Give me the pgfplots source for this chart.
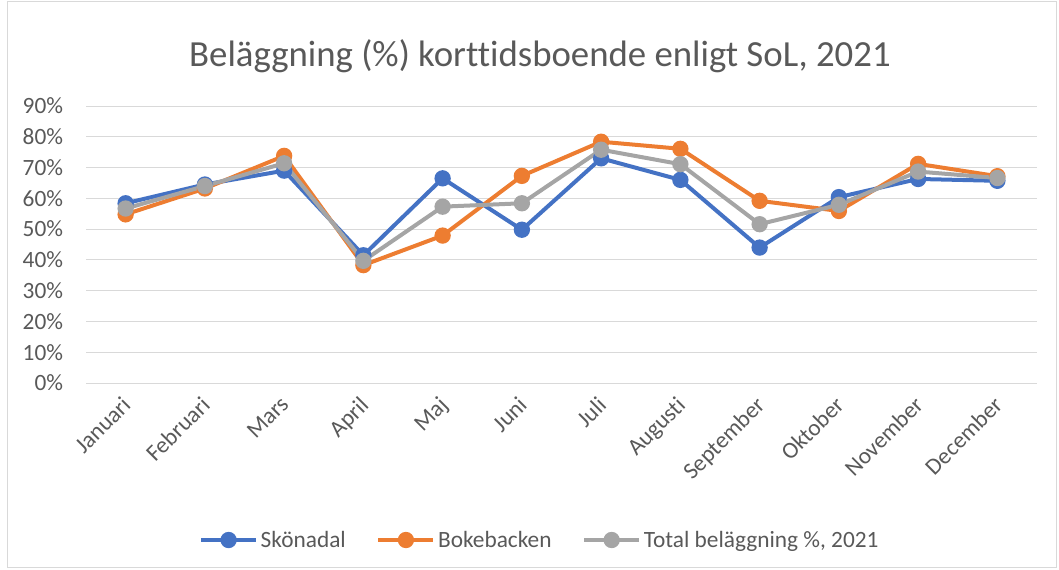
\documentclass[border=0pt]{standalone}
\usepackage{pgfplots}
\pgfplotsset{compat=1.18}
\usepackage{fontspec}
\setmainfont{Carlito}[Ligatures={NoCommon}]
\definecolor{cblue}{HTML}{4472C4}
\definecolor{corange}{HTML}{ED7D31}
\definecolor{cgray}{HTML}{A5A5A5}
\definecolor{cgrid}{HTML}{D9D9D9}
\definecolor{ctext}{HTML}{595959}
\begin{document}
\begin{tikzpicture}[x=1pt,y=1pt]
\useasboundingbox (-64.5,-139.5) rectangle (729.75,287.25);
\draw[cgrid, line width=0.75pt] (-58.5,-138) rectangle (727.5,286.5);
\begin{axis}[
  at={(0,0)}, anchor=south west,
  width=713.25pt, height=207.75pt, scale only axis,
  xmin=-0.5, xmax=11.5, ymin=0, ymax=90,
  xtick={0,...,11},
  xticklabels={Januari,Februari,Mars,April,Maj,Juni,Juli,Augusti,September,Oktober,November,December},
  ytick={0,10,...,90},
  yticklabel={\pgfmathprintnumber{\tick}\%},
  /pgf/number format/assume math mode=true,
  axis x line*=bottom,
  y axis line style={draw=none},
  x axis line style={cgrid, line width=0.75pt, -},
  ymajorgrids, grid style={cgrid, line width=0.75pt},
  major tick length=0pt,
  tick label style={font=\fontsize{17.5}{21}\selectfont, text=ctext},
  xticklabel style={anchor=north east, inner sep=0pt, xshift=-3.75pt, yshift=-9pt, rotate=45},
  yticklabel style={anchor=east, inner sep=0pt, xshift=-17pt},
  every axis plot/.append style={line width=3pt, mark=*, mark size=4.6pt},
  legend style={at={(0.5,0)}, anchor=center, yshift=-117.75pt, xshift=-16pt, draw=none, fill=none,
    font=\fontsize{17.5}{21}\selectfont, text=ctext, legend columns=3,
    /tikz/every even column/.append style={column sep=21pt}},
  legend cell align=left,
  legend image code/.code={\draw[#1, mark repeat=2, mark phase=2] plot coordinates {(0pt,0pt) (20.6pt,0pt) (41.2pt,0pt)};},
  clip=false,
]
\addplot[cblue, mark options={fill=cblue, draw=cblue}] coordinates {
(0,58.4) (1,64.5) (2,69.0) (3,41.5) (4,66.5) (5,49.8) (6,73.0) (7,66.0) (8,44.0) (9,60.4) (10,66.3) (11,65.7)};
\addlegendentry{Skönadal}
\addplot[corange, mark options={fill=corange, draw=corange}] coordinates {
(0,54.8) (1,63.2) (2,73.8) (3,38.3) (4,47.9) (5,67.3) (6,78.4) (7,76.1) (8,59.2) (9,55.9) (10,71.2) (11,67.2)};
\addlegendentry{Bokebacken}
\addplot[cgray, mark options={fill=cgray, draw=cgray}] coordinates {
(0,56.7) (1,64.0) (2,71.4) (3,39.7) (4,57.3) (5,58.4) (6,75.8) (7,71.1) (8,51.6) (9,57.9) (10,68.7) (11,66.6)};
\addlegendentry{Total beläggning \%, 2021}
\end{axis}
\node[anchor=base, text=ctext, font=\fontsize{27.6}{33}\selectfont] at (340.5,237.75) {Beläggning (\%) korttidsboende enligt SoL, 2021};
\end{tikzpicture}
\end{document}
